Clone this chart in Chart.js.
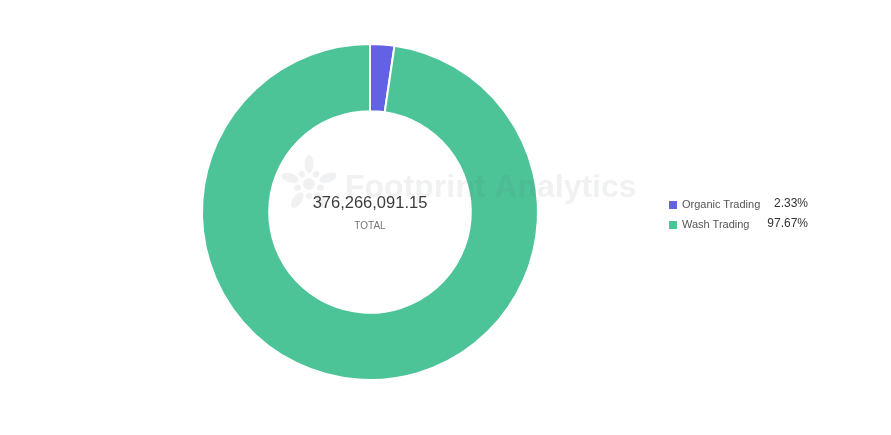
<!DOCTYPE html>
<html>
<head>
<meta charset="utf-8">
<script src="https://cdn.jsdelivr.net/npm/chart.js@4"></script>
<style>
  body { margin: 0; background: #fff; font-family: "Liberation Sans", Arial, sans-serif; }
  #wrapper { position: relative; width: 891px; height: 435px; }
  #chart { position: absolute; left: 0; top: 0; }
  .center { position: absolute; left: 270px; width: 200px; text-align: center; }
  .total-value { top: 193px; font-size: 16.5px; color: #3d3d3d; }
  .total-label { top: 220px; font-size: 10px; color: #777; }
  .legend { position: absolute; left: 669px; top: 196px; }
  .legend-row { position: relative; height: 20px; width: 139px; }
  .legend-box { position: absolute; left: 0; top: 5px; width: 8px; height: 8px; }
  .legend-label { position: absolute; left: 13px; top: 2px; font-size: 11px; color: #555; }
  .legend-value { position: absolute; right: 0; top: 0; font-size: 12px; color: #333; }
</style>
</head>
<body>
<div id="wrapper">
  <canvas id="chart" width="891" height="435"></canvas>
  <div class="center total-value" id="totalValue"></div>
  <div class="center total-label">TOTAL</div>
  <div class="legend" id="legend"></div>
</div>
<script>
let labels = ["Organic Trading", "Wash Trading"];
let values = [8767000.0, 367499091.15];
let colors = ["#6462e4", "#4cc498"];

let total = values.reduce((a, b) => a + b, 0);

// center total
document.getElementById("totalValue").textContent = total.toLocaleString("en-US", {
  minimumFractionDigits: 2,
  maximumFractionDigits: 2,
});

// legend
let legend = document.getElementById("legend");
let legendHtml = "";
labels.forEach((label, i) => {
  let pct = ((values[i] / total) * 100).toFixed(2) + "%";
  legendHtml += `<div class="legend-row">
      <div class="legend-box" style="background:${colors[i]}"></div>
      <div class="legend-label">${label}</div>
      <div class="legend-value">${pct}</div>
    </div>`;
});
legend.insertAdjacentHTML("afterbegin", legendHtml);

// watermark drawn over the chart, very light
const watermark = {
  id: "watermark",
  afterDraw(chart) {
    let ctx = chart.ctx;
    ctx.save();
    ctx.globalAlpha = 0.09;
    ctx.fillStyle = "#5a6470";
    // logo petals
    let cx = 309, cy = 184;
    for (let k = 0; k < 10; k++) {
      let a = (k / 10) * Math.PI * 2 - Math.PI / 2;
      let outer = k % 2 == 0;
      let r = outer ? 20 : 12;
      ctx.beginPath();
      ctx.ellipse(cx + Math.cos(a) * r, cy + Math.sin(a) * r, outer ? 9 : 3.5, outer ? 4.5 : 3, a, 0, Math.PI * 2);
      ctx.fill();
    }
    ctx.beginPath();
    ctx.arc(cx, cy, 6, 0, Math.PI * 2);
    ctx.fill();
    ctx.font = "bold 32px 'Liberation Sans', Arial, sans-serif";
    ctx.textBaseline = "middle";
    ctx.fillText("Footprint Analytics", 345, 188);
    ctx.restore();
  },
};

const config = {
  type: "doughnut",
  data: {
    labels: labels,
    datasets: [
      {
        data: values,
        backgroundColor: colors,
        borderColor: "#ffffff",
        borderWidth: 2,
        hoverOffset: 0,
      },
    ],
  },
  options: {
    responsive: false,
    animation: false,
    cutout: "60%",
    layout: {
      padding: { left: 201, right: 352, top: 43, bottom: 54 },
    },
    plugins: {
      legend: { display: false },
      tooltip: { enabled: false },
    },
  },
  plugins: [watermark],
};

let chart = new Chart(document.getElementById("chart"), config);
</script>
</body>
</html>
